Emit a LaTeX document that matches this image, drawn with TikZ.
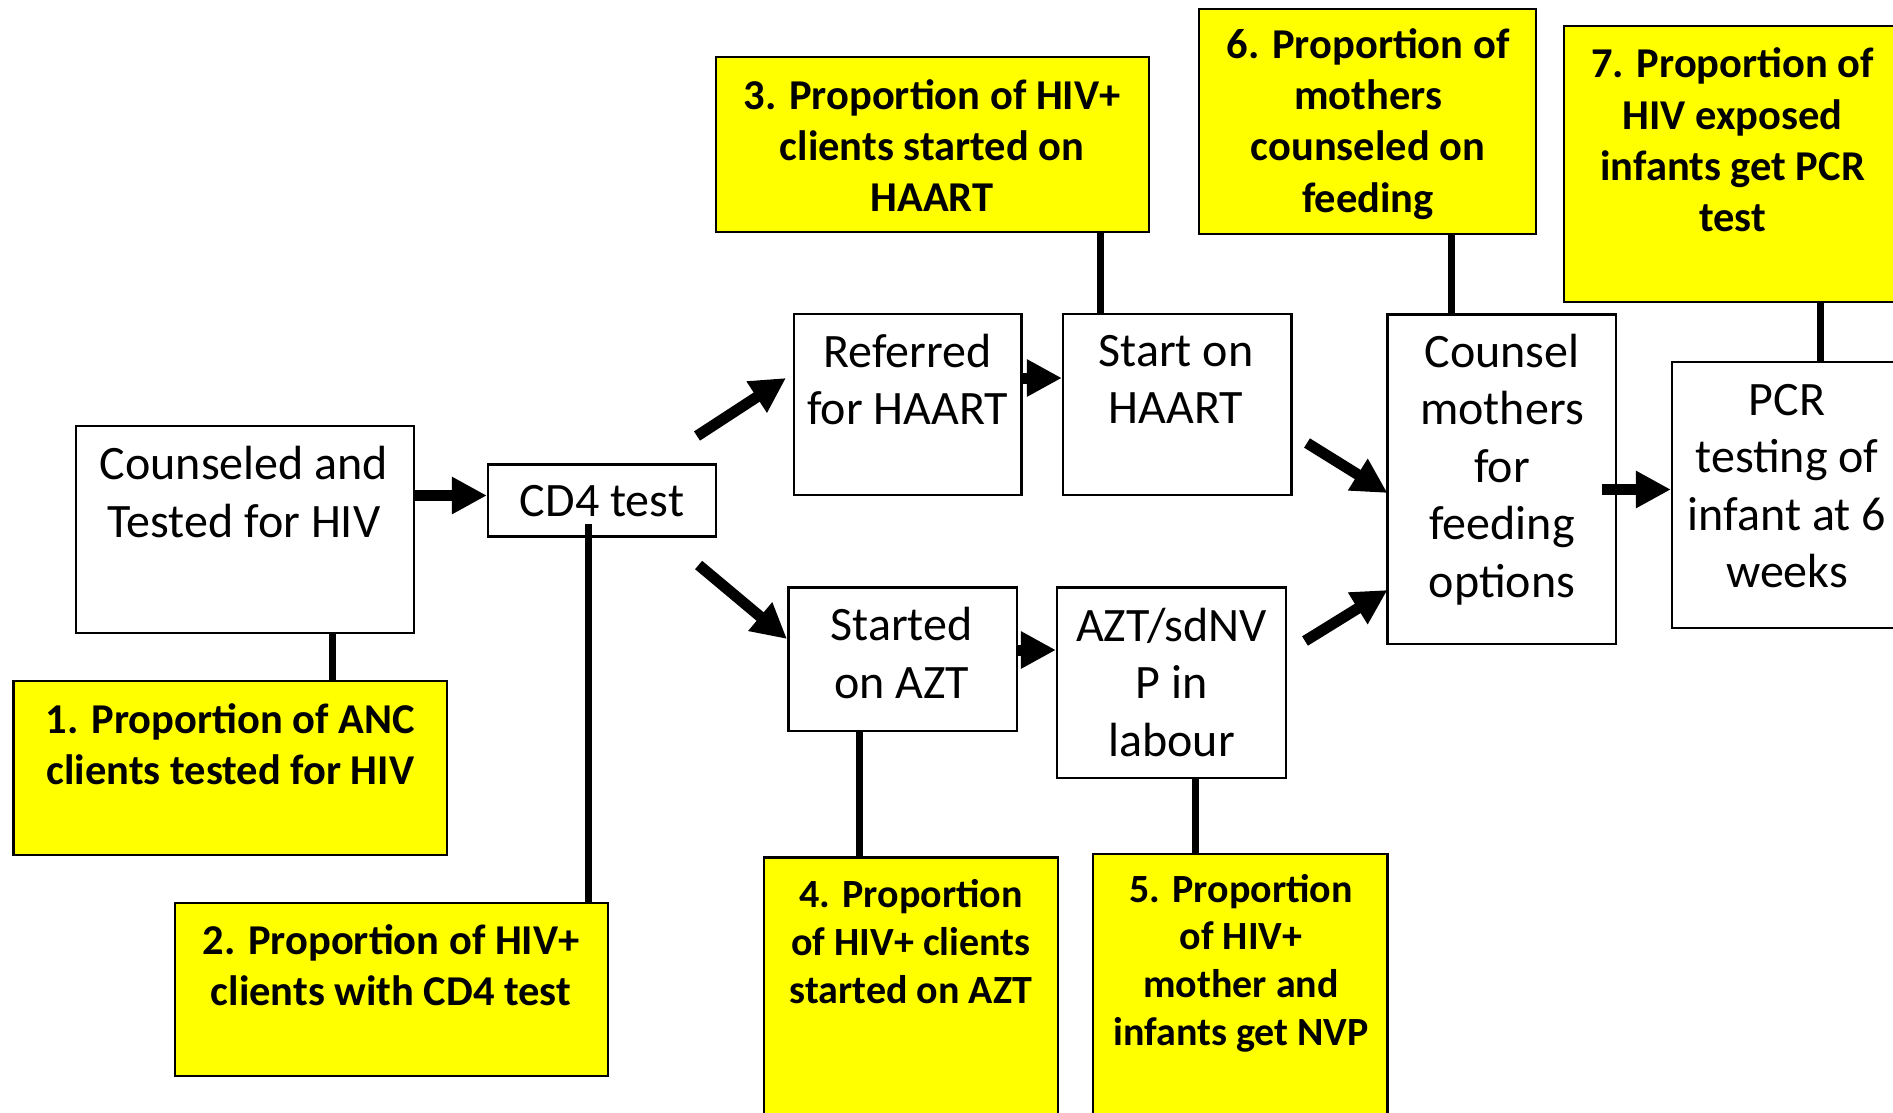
\documentclass[tikz,border=0pt]{standalone}
\usepackage{fontspec}
\setmainfont{Carlito}
\usetikzlibrary{arrows.meta}
\definecolor{hiyellow}{RGB}{255,255,0}
\begin{document}
\begin{tikzpicture}[x=1pt,y=-1pt,
  wbox/.style={draw=black, line width=2.2pt, fill=white, inner sep=0pt},
  ybox/.style={draw=black, line width=2.2pt, fill=hiyellow, inner sep=0pt},
  btxt/.style={align=center, inner sep=0pt, font=\fontsize{48}{57.5}\selectfont},
  ytxt/.style={align=center, inner sep=0pt, font=\bfseries\fontsize{42.5}{51}\selectfont},
  ytxtb/.style={align=center, inner sep=0pt, font=\bfseries\fontsize{42.5}{51.3}\selectfont},
  ytxts/.style={align=center, inner sep=0pt, font=\bfseries\fontsize{40}{47.7}\selectfont},
  link/.style={line width=7pt},
  flow/.style={line width=11pt, -{Triangle[length=35pt,width=35pt]}}]
\fill[white] (0,0) rectangle (1893,1112);
\clip (0,0) rectangle (1893,1112);
% white process boxes
\node[wbox, minimum width=338.7pt, minimum height=206.6pt] (A) at (245,529.5) {};
\node[wbox, minimum width=228pt, minimum height=72pt] (CD4) at (602,500.4) {};
\node[wbox, minimum width=227.6pt, minimum height=181pt] (Ref) at (907.6,404.1) {};
\node[wbox, minimum width=228.5pt, minimum height=181pt] (Start) at (1177.25,404.1) {};
\node[wbox, minimum width=228.6pt, minimum height=143.3pt] (AZT) at (902.7,659.2) {};
\node[wbox, minimum width=228.7pt, minimum height=190.8pt] (NVP) at (1171.4,682.9) {};
\node[wbox, minimum width=228.6pt, minimum height=329.5pt] (Couns) at (1501.7,479.2) {};
\node[wbox, minimum width=238pt, minimum height=266pt] (PCR) at (1791,495) {};
% yellow indicator boxes
\node[ybox, minimum width=433.6pt, minimum height=174pt] (Y1) at (230.2,768) {};
\node[ybox, minimum width=432.7pt, minimum height=173pt] (Y2) at (391.4,989.5) {};
\node[ybox, minimum width=433pt, minimum height=175pt] (Y3) at (932.2,144.5) {};
\node[ybox, minimum width=294.2pt, minimum height=272.5pt] (Y4) at (910.9,993.75) {};
\node[ybox, minimum width=294.5pt, minimum height=276pt] (Y5) at (1240.25,992) {};
\node[ybox, minimum width=337pt, minimum height=224.6pt] (Y6) at (1367.5,121.3) {};
\node[ybox, minimum width=346.4pt, minimum height=275.8pt] (Y7) at (1736.8,163.9) {};
% texts
\node[btxt] (tA) at (244,492) {Counseled and\\Tested for HIV};
\node[btxt] (tCD4) at (602,501) {CD4 test};
\node[btxt] (tRef) at (907.6,379.5) {Referred\\for HAART};
\node[btxt] (tStart) at (1176,379.5) {Start on\\HAART};
\node[btxt] (tAZT) at (901.6,653) {Started\\on AZT};
\node[btxt] (tNVP) at (1171.6,682) {AZT/sdNV\\P in\\labour};
\node[btxt] (tCouns) at (1502,469.5) {Counsel\\mothers\\for\\feeding\\options};
\node[btxt] (tPCR) at (1787,486) {PCR\\testing of\\infant at 6\\weeks};
\node[ytxt] (tY1) at (230.4,744) {1. Proportion of ANC\\clients tested for HIV};
\node[ytxt] (tY2) at (391,965) {2. Proportion of HIV+\\clients with CD4 test};
\node[ytxt] (tY3) at (932,145.5) {3. Proportion of HIV+\\clients started on\\HAART};
\node[ytxts] (tY4) at (911,941.5) {4. Proportion\\of HIV+ clients\\started on AZT};
\node[ytxts] (tY5) at (1241,963) {5. Proportion\\of HIV+\\mother and\\infants get NVP};
\node[ytxtb] (tY6) at (1368,124) {6. Proportion of\\mothers\\counseled on\\feeding};
\node[ytxtb] (tY7) at (1732.6,140) {7. Proportion of\\HIV exposed\\infants get PCR\\test};
% helper coordinates
\coordinate (c1) at (332,0);
\coordinate (c2) at (588.5,524);
\coordinate (c3) at (1100,0);
\coordinate (c4) at (859.5,0);
\coordinate (c5) at (1195.5,0);
\coordinate (c6) at (1451.5,0);
\coordinate (c7) at (1820,0);
\coordinate (r1) at (0,495.5);
\coordinate (r2) at (0,378);
\coordinate (r3) at (0,650);
\coordinate (k1) at (1602,489.5);
\coordinate (d1s) at (697,436);
\coordinate (d1e) at (786,378);
\coordinate (d2s) at (698.6,565);
\coordinate (d2e) at (787,639);
\coordinate (d3s) at (1307,443);
\coordinate (d3e) at (1387.5,493);
\coordinate (d4s) at (1305,641);
\coordinate (d4e) at (1387.5,590);
% indicator links
\draw[link] (A.south -| c1) -- (Y1.north -| c1);
\draw[link] (c2) -- (Y2.north -| c2);
\draw[link] (Y3.south -| c3) -- (Start.north -| c3);
\draw[link] (AZT.south -| c4) -- (Y4.north -| c4);
\draw[link] (NVP.south -| c5) -- (Y5.north -| c5);
\draw[link] (Y6.south -| c6) -- (Couns.north -| c6);
\draw[link] (Y7.south -| c7) -- (PCR.north -| c7);
% flow arrows
\draw[flow] (A.east |- r1) -- (CD4.west |- r1);
\draw[flow] (Ref.east |- r2) -- (Start.west |- r2);
\draw[flow] (AZT.east |- r3) -- (NVP.west |- r3);
\draw[flow] (k1) -- (PCR.west |- k1);
\draw[flow] (d1s) -- (d1e);
\draw[flow] (d2s) -- (d2e);
\draw[flow] (d3s) -- (d3e);
\draw[flow] (d4s) -- (d4e);
\end{tikzpicture}
\end{document}
